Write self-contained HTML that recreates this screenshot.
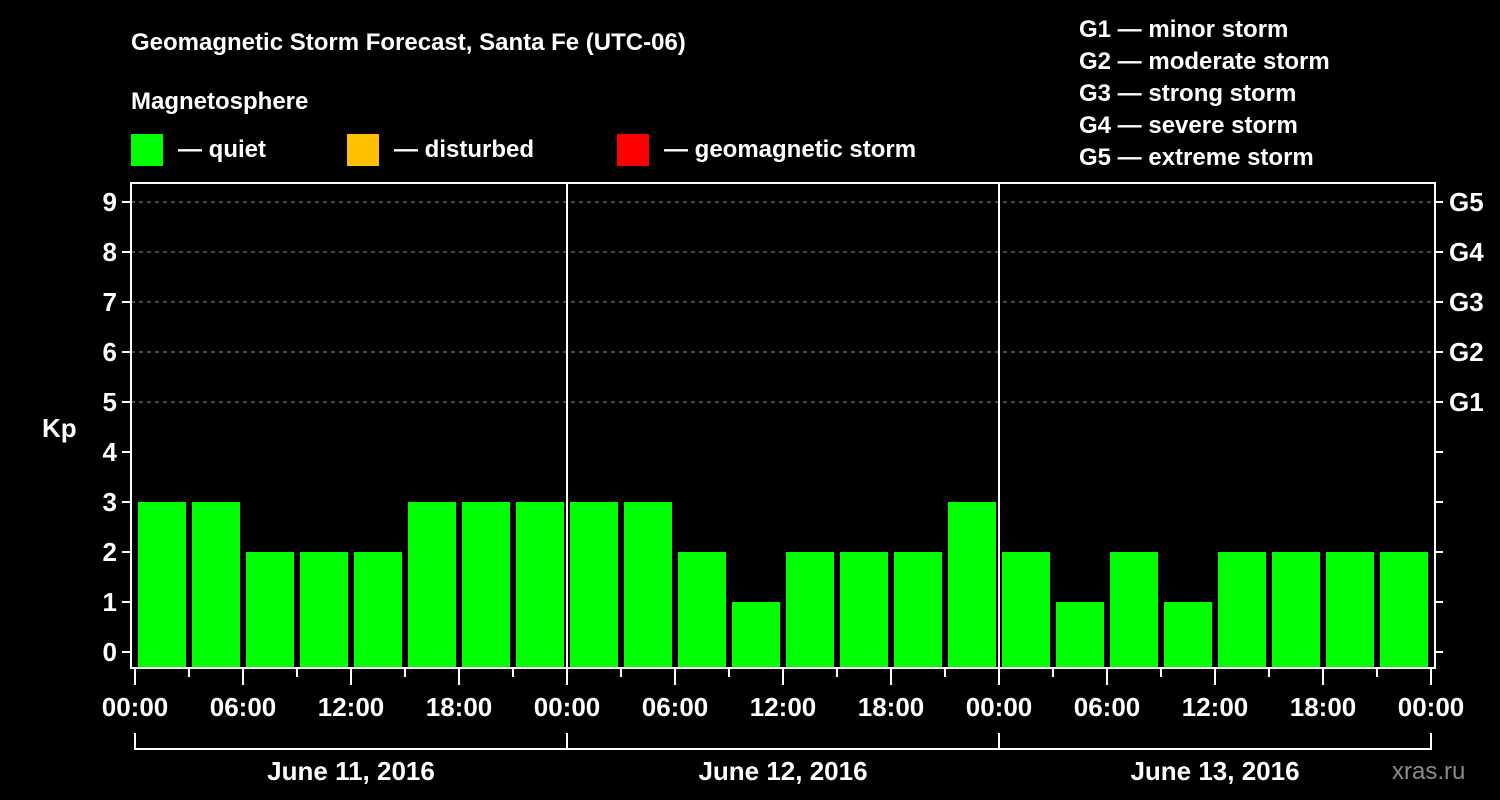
<!DOCTYPE html>
<html><head><meta charset="utf-8"><style>
body{margin:0;background:#000;width:1500px;height:800px;overflow:hidden}
svg{display:block}
text{font-family:"Liberation Sans",sans-serif;font-weight:bold;fill:#fff}
</style></head><body>
<svg id="c" width="1500" height="800">
<text x="131" y="50" font-size="24">Geomagnetic Storm Forecast, Santa Fe (UTC-06)</text>
<text x="131" y="109" font-size="24">Magnetosphere</text>
<rect x="131" y="134" width="32" height="32" fill="#00ff00"/>
<text x="178" y="157" font-size="24">— quiet</text>
<rect x="347" y="134" width="32" height="32" fill="#ffc000"/>
<text x="394" y="157" font-size="24">— disturbed</text>
<rect x="617" y="134" width="32" height="32" fill="#ff0000"/>
<text x="664" y="157" font-size="24">— geomagnetic storm</text>
<text x="1079" y="37" font-size="24">G1 — minor storm</text>
<text x="1079" y="69" font-size="24">G2 — moderate storm</text>
<text x="1079" y="101" font-size="24">G3 — strong storm</text>
<text x="1079" y="133" font-size="24">G4 — severe storm</text>
<text x="1079" y="165" font-size="24">G5 — extreme storm</text>
<text x="42" y="437" font-size="26">Kp</text>
<text x="1392" y="779" font-size="24" fill="#888" style="fill:#8a8a8a;font-weight:normal">xras.ru</text>
<g id="g"></g>
</svg>
<script>
const kpValues=[3,3,2,2,2,3,3,3, 3,3,2,1,2,2,2,3, 2,1,2,1,2,2,2,2];
const dayLabels=["June 11, 2016","June 12, 2016","June 13, 2016"];
const hourLabels=["00:00","06:00","12:00","18:00"];
const gLabels=["G1","G2","G3","G4","G5"];
const NS="http://www.w3.org/2000/svg";
const g=document.getElementById('g');
const X0=135,DAYW=432,Y0=652,UNIT=50,BOT=668,LEFT=131,RIGHT=1435,TOP=183;
const xs=h=>X0+h*DAYW/24;
const ys=v=>Y0-v*UNIT;
function mk(t,a,txt){const e=document.createElementNS(NS,t);for(const k in a)e.setAttribute(k,a[k]);if(txt!==undefined)e.textContent=txt;g.appendChild(e);return e;}
// grid
for(let v=5;v<=9;v++){const l=mk('line',{x1:LEFT,x2:RIGHT,y1:ys(v),y2:ys(v),stroke:'#888','stroke-dasharray':'4,4'});

}
// bars
kpValues.forEach((v,i)=>{const x=xs(i*3)+3,w=DAYW/8-6;const r=mk('rect',{x:x,y:ys(v),width:w,height:BOT-ys(v),fill:v>=5?'#ff0000':(v>=4?'#ffc000':'#00ff00')});

});
// day separators
for(let d=1;d<3;d++){const l=mk('line',{x1:xs(d*24),x2:xs(d*24),y1:TOP,y2:BOT,stroke:'#fff','stroke-width':2});

}
// frame
const f=mk('rect',{x:LEFT,y:TOP,width:RIGHT-LEFT,height:BOT-TOP,fill:'none',stroke:'#fff','stroke-width':2});


// y ticks
for(let v=0;v<=9;v++){mk('line',{x1:LEFT-9,x2:LEFT,y1:ys(v),y2:ys(v),stroke:'#fff','stroke-width':2});
mk('line',{x1:RIGHT,x2:RIGHT+8,y1:ys(v),y2:ys(v),stroke:'#fff','stroke-width':2});
const t=mk('text',{x:LEFT-14,y:ys(v)+9,'font-size':26,'text-anchor':'end'},v);

}
gLabels.forEach((s,i)=>{const t=mk('text',{x:1449,y:ys(i+5)+9,'font-size':26},s);

});
// x ticks
for(let h=0;h<=72;h+=3){const major=h%6===0;mk('line',{x1:xs(h),x2:xs(h),y1:BOT,y2:BOT+(major?17:9),stroke:'#fff','stroke-width':2});
if(major){const t=mk('text',{x:xs(h),y:716,'font-size':26,'text-anchor':'middle'},hourLabels[(h/6)%4]);

}}
// day brackets
dayLabels.forEach((s,d)=>{mk('path',{d:`M${xs(d*24)},733V749H${xs(d*24+24)}V733`,fill:'none',stroke:'#fff','stroke-width':2});
const t=mk('text',{x:xs(d*24+12),y:780,'font-size':26,'text-anchor':'middle'},s);

});
</script>
</body></html>
